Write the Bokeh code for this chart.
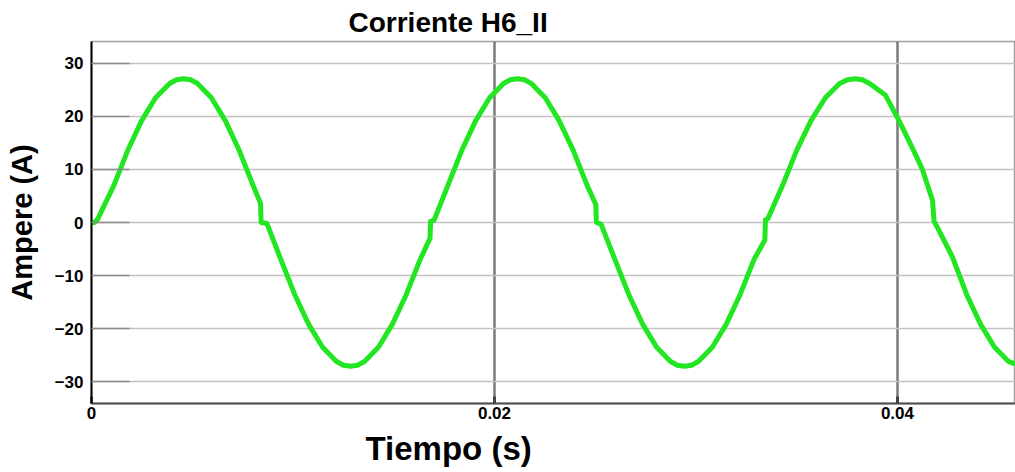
from bokeh.plotting import figure
from bokeh.models import FixedTicker, Range1d, Title
from bokeh.embed import file_html
from bokeh.resources import INLINE

title_text = "Corriente H6_II"
x_label = "Tiempo (s)"
y_label = "Ampere (A)"
x_ticks = [0, 0.02, 0.04]
x_tick_labels = ["0", "0.02", "0.04"]
y_ticks = [-30, -20, -10, 0, 10, 20, 30]

time_s = [
    0.0, 0.00015, 0.00030, 0.00111, 0.00180, 0.00249, 0.00318, 0.00388, 0.00422,
    0.00457, 0.00492, 0.00526, 0.00595, 0.00664, 0.00733, 0.00802, 0.00839,
    0.00842, 0.00871, 0.00940, 0.01009, 0.01078, 0.01147, 0.01216, 0.01250,
    0.01285, 0.01320, 0.01355, 0.01424, 0.01493, 0.01562, 0.01631, 0.01680,
    0.01683, 0.01700, 0.01769, 0.01838, 0.01907, 0.01976, 0.02045, 0.02079,
    0.02114, 0.02149, 0.02183, 0.02252, 0.02321, 0.02391, 0.02460, 0.02503,
    0.02506, 0.02529, 0.02598, 0.02667, 0.02736, 0.02805, 0.02874, 0.02908,
    0.02943, 0.02978, 0.03012, 0.03081, 0.03150, 0.03219, 0.03288, 0.03342,
    0.03345, 0.03357, 0.03430, 0.03500, 0.03571, 0.03642, 0.03713, 0.03752,
    0.03790, 0.03826, 0.03862, 0.03940, 0.04008, 0.04080, 0.04124, 0.04174,
    0.04182, 0.04190, 0.04273, 0.04344, 0.04413, 0.04482, 0.04552, 0.04621,
]
current_a = [
    0.0, 0.0, 0.6, 7.0, 13.6, 19.2, 23.5, 26.2, 26.9,
    27.1, 26.9, 26.2, 23.5, 19.2, 13.6, 7.0, 3.6,
    0.0, -0.2, -7.0, -13.6, -19.2, -23.5, -26.2, -26.9,
    -27.1, -26.9, -26.2, -23.5, -19.2, -13.6, -7.0, -3.0,
    0.2, 0.4, 7.0, 13.6, 19.2, 23.5, 26.2, 26.9,
    27.1, 26.9, 26.2, 23.5, 19.2, 13.6, 7.0, 3.4,
    0.0, -0.3, -7.0, -13.6, -19.2, -23.5, -26.2, -26.9,
    -27.1, -26.9, -26.2, -23.5, -19.2, -13.6, -7.0, -3.3,
    0.5, 0.7, 7.0, 13.6, 19.2, 23.5, 26.2, 26.9,
    27.1, 26.9, 26.2, 24.0, 19.2, 13.6, 10.0, 4.2,
    0.2, -0.3, -6.5, -13.6, -19.2, -23.5, -26.2, -27.1,
]

FONT = "Liberation Sans"

p = figure(width=1015, height=472, output_backend="svg", toolbar_location=None,
           x_range=Range1d(0, 0.04586), y_range=Range1d(-34.1, 34.1),
           min_border_left=91, min_border_top=40, min_border_bottom=67,
           min_border_right=0, title=title_text)
p.background_fill_color = "white"
p.border_fill_color = "white"
p.outline_line_color = "#a0a0a0"
p.outline_line_width = 1.5

p.title.align = "left"
p.title.offset = 257
p.title.standoff = 8
p.title.text_font = FONT
p.title.text_font_style = "bold"
p.title.text_font_size = "28px"
p.title.text_color = "black"

# axes
p.xaxis.ticker = FixedTicker(ticks=x_ticks)
p.xaxis.major_label_overrides = {t: l for t, l in zip(x_ticks, x_tick_labels)}
p.yaxis.ticker = FixedTicker(ticks=y_ticks)
p.xaxis.minor_tick_line_color = None
p.yaxis.minor_tick_line_color = None
for ax in (p.xaxis, p.yaxis):
    ax.major_label_text_font = FONT
    ax.major_label_text_font_style = "bold"
    ax.major_label_text_font_size = "17px"
    ax.major_label_text_color = "black"
    ax.major_tick_out = 0
p.xaxis.major_tick_in = 7
p.xaxis.major_tick_line_width = 3
p.xaxis.major_tick_line_color = "#444444"
p.xaxis.major_label_standoff = 3
p.xaxis.axis_line_color = "#4d4d4d"
p.xaxis.axis_line_width = 2
p.yaxis.major_tick_in = 38
p.yaxis.major_tick_line_color = "#8a8a8a"
p.yaxis.major_tick_line_width = 1.5
p.yaxis.major_label_standoff = 8
p.yaxis.axis_line_color = "black"
p.yaxis.axis_line_width = 2
p.yaxis.axis_label = y_label
p.yaxis.axis_label_text_font = FONT
p.yaxis.axis_label_text_font_style = "bold"
p.yaxis.axis_label_text_font_size = "29px"
p.yaxis.axis_label_text_color = "black"
p.yaxis.axis_label_standoff = 14

# x-axis label as a below title (it sits left of centre in the reference)
xl = Title(text=x_label, align="left", offset=274, standoff=12,
           text_font=FONT, text_font_style="bold", text_font_size="33px",
           text_color="black")
p.add_layout(xl, "below")

# grids
p.xgrid.ticker = FixedTicker(ticks=x_ticks)
p.xgrid.grid_line_color = "#7a7a7a"
p.xgrid.grid_line_width = 2.5
p.ygrid.ticker = FixedTicker(ticks=y_ticks)
p.ygrid.grid_line_color = "#c2c2c2"
p.ygrid.grid_line_width = 1.5

p.line(time_s, current_a, line_color="#22e622", line_width=5, line_join="round")

open("out.html", "w").write(file_html(p, INLINE))
